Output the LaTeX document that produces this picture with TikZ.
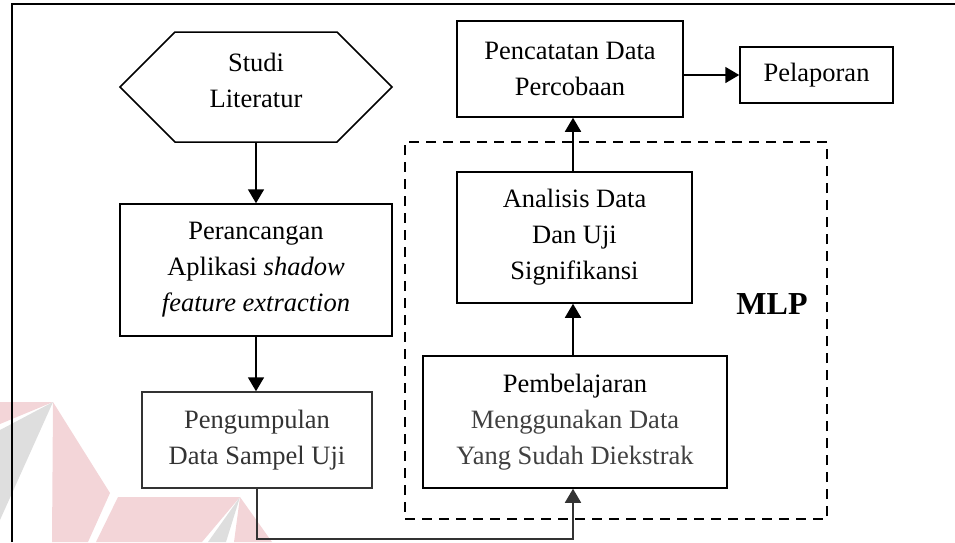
\documentclass[tikz,border=0pt]{standalone}
\usepackage{fontspec}
\setmainfont{Liberation Serif}
\usetikzlibrary{arrows.meta,calc}
\definecolor{wmpink}{HTML}{F3D5D8}
\definecolor{wmgrey}{HTML}{DEDEDE}
\begin{document}
\begin{tikzpicture}[x=1pt,y=-1pt,
  txt/.style={font=\fontsize{26.5}{36}\selectfont},
  box/.style={draw, line width=1.5pt, align=center, inner sep=0pt, txt},
  conn/.style={line width=1.8pt, -{Triangle[length=14pt,width=16pt]}},
  grp/.style={draw, line width=1.8pt, dash pattern=on 10pt off 7pt, inner sep=0pt},
  frame/.style={line width=1.5pt}]
\useasboundingbox (0,0) rectangle (955,542);
% watermark
\fill[wmpink] (0,402) -- (53,402) -- (0,424) -- cycle;
\fill[wmgrey] (53,402) -- (0,430) -- (0,520) -- cycle;
\fill[wmpink] (53,402) -- (110,493) -- (88,542) -- (52,542) -- cycle;
\fill[wmpink] (118,497) -- (240,497) -- (202,542) -- (96,542) -- cycle;
\fill[wmgrey] (240,497) -- (208,542) -- (226,542) -- cycle;
\fill[wmpink] (240,497) -- (272,542) -- (234,542) -- cycle;
% outer frame
\draw[frame] (12,542) -- (12,4) -- (955,4);
% nodes
\node[inner sep=0pt, align=center, txt] (hex) at (256,80) {Studi\\Literatur};
\draw[line width=1.5pt] (120,87) -- (175,32) -- (337,32) -- (392,87) -- (337,142) -- (175,142) -- cycle;
\node[box, minimum width=272pt, minimum height=132pt] (pera) at (256,270) {Perancangan\\Aplikasi \textit{shadow}\\\textit{feature extraction}};
\node[box, draw=black!80, text=black!80, minimum width=230pt, minimum height=96pt] (peng) at (257,440) {Pengumpulan\\Data Sampel Uji};
\node[grp, minimum width=422pt, minimum height=377pt] (mlpgrp) at (616,330.5) {};
\node[box, minimum width=304pt, minimum height=132pt] (pemb) at (575,422) {Pembelajaran\\\textcolor{black!75}{Menggunakan Data}\\\textcolor{black!75}{Yang Sudah Diekstrak}};
\node[box, minimum width=235pt, minimum height=131pt] (anal) at (574.5,237.5) {Analisis Data\\Dan Uji\\Signifikansi};
\node[box, minimum width=226pt, minimum height=96pt] (penc) at (570,69) {Pencatatan Data\\Percobaan};
\node[box, minimum width=153pt, minimum height=56pt] (pela) at (816.5,75) {Pelaporan};
\node[font=\fontsize{32}{38}\selectfont\bfseries, inner sep=0pt] (mlp) at (772,304) {MLP};
% connector anchors
\coordinate (hexs) at (256,142);
\coordinate (pembs) at ($(pemb.south)+(-2,0)$);
\coordinate (pembn) at ($(pemb.north)+(-2,0)$);
\coordinate (analn) at ($(anal.north)+(-1.5,0)$);
% connectors
\draw[conn] (hexs) -- (hexs |- pera.north);
\draw[conn] (pera.south) -- (pera.south |- peng.north);
\draw[conn, black!80] (peng.south) -- ++(0,50) -| (pembs);
\draw[conn] (pembn) -- (pembn |- anal.south);
\draw[conn] (analn) -- (analn |- penc.south);
\draw[conn] (penc.east |- pela.west) -- (pela.west);
\end{tikzpicture}
\end{document}
